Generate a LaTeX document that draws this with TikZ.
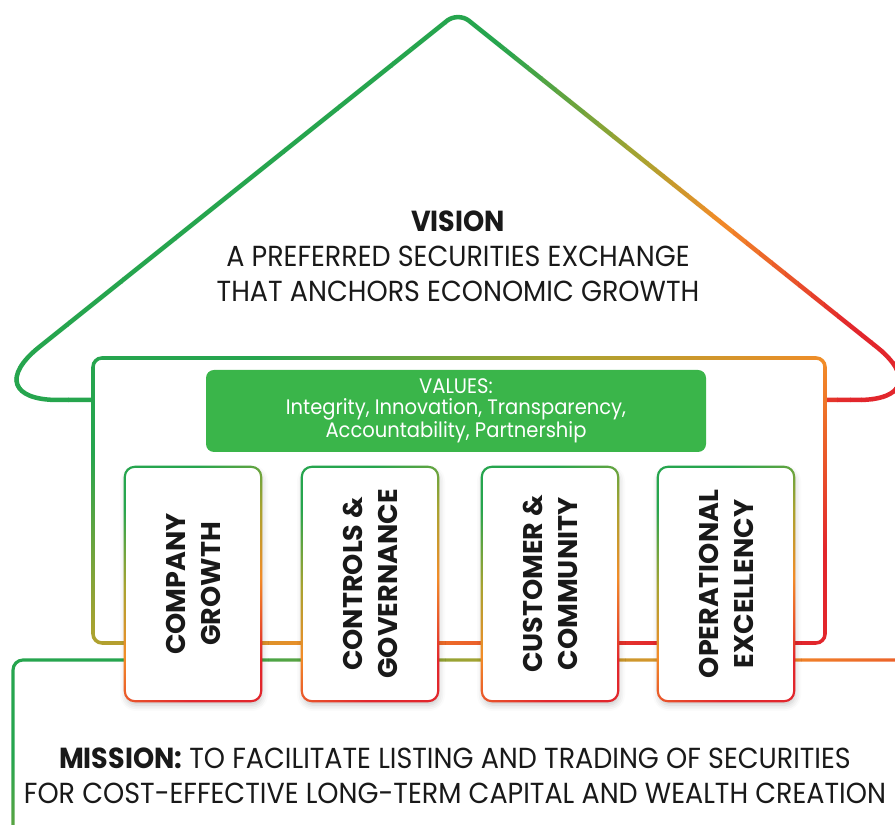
\documentclass[tikz,border=0pt]{standalone}
\usepackage{fontspec}
\setmainfont{Poppins}[FakeStretch=0.93]
\newfontfamily\pillarfont{Poppins}
\usetikzlibrary{calc,shadows.blur}

\definecolor{hgreen}{RGB}{38,165,78}
\definecolor{holive}{RGB}{168,163,48}
\definecolor{horange}{RGB}{242,140,40}
\definecolor{hred}{RGB}{226,38,44}
\definecolor{valgreen}{RGB}{58,181,74}
\definecolor{ink}{RGB}{25,25,25}

% green -> olive -> orange -> red
\pgfdeclarehorizontalshading{houseshade}{100bp}{color(0bp)=(hgreen); color(25bp)=(hgreen);
  color(42bp)=(holive); color(57bp)=(horange); color(75bp)=(hred); color(100bp)=(hred)}

\tikzset{
  pillar/.style={rectangle, rounded corners=10pt, fill=white, inner sep=0pt,
    minimum width=136pt, minimum height=234pt,
    blur shadow={shadow xshift=1pt, shadow yshift=-4pt, shadow blur radius=6pt, shadow opacity=22}},
  pillarlabel/.style={rotate=90, align=center, text=ink,
    font=\pillarfont\bfseries\fontsize{27}{35}\selectfont},
  valuesbox/.style={rectangle, rounded corners=8pt, fill=valgreen, text=white, align=center,
    minimum width=500pt, minimum height=82pt, inner sep=0pt,
    font=\fontsize{21}{21}\selectfont},
  bigtext/.style={align=center, text=ink, font=\fontsize{29}{35}\selectfont},
  roofline/.style={line width=4.5pt}
}

% frame with a shaded outline: corners, radius, half line width, shading angle
\newcommand\gradframe[5]{%
  \shade[shading=houseshade, shading angle=#5, even odd rule]
    [rounded corners=#3pt+#4pt] ($#1+(-#4,-#4)$) rectangle ($#2+(#4,#4)$)
    [rounded corners=#3pt-#4pt] ($#1+(#4,#4)$) rectangle ($#2+(-#4,-#4)$);}

% the roof, one corner per piece
\newcommand\roofpath{%
  \draw[rounded corners=85pt] (wl) -- (el) -- (sl);
  \draw[rounded corners=14pt] (sl) -- (apex) -- (sr);
  \draw[rounded corners=85pt] (sr) -- (er) -- (wr);}

\begin{document}
\begin{tikzpicture}[x=1pt, y=1pt]
  \useasboundingbox (0,0) rectangle (895,825);
  \clip (0,0) rectangle (895,825);

  \coordinate (apex) at (458,813);
  \coordinate (el) at (-27,425);
  \coordinate (er) at (943,425);
  \coordinate (wl) at (93,425);
  \coordinate (wr) at (826,425);
  \coordinate (sl) at ($(apex)!60pt!(el)$);
  \coordinate (sr) at ($(apex)!60pt!(er)$);

  % roof, coloured strip by strip from left to right
  \foreach \xa/\xb/\ca/\cb in {-40/500/hgreen/hgreen, 500/640/hgreen/holive,
      640/720/holive/horange, 720/850/horange/hred, 850/960/hred/hred}{
    \foreach \k in {0,...,9}{
      \pgfmathsetmacro\sa{\xa+(\xb-\xa)*\k/10}
      \pgfmathsetmacro\sb{\xa+(\xb-\xa)*(\k+1)/10+0.6}
      \pgfmathtruncatemacro\mix{95-10*\k}
      \begin{scope}
        \clip (\sa,390) rectangle (\sb,830);
        \begin{scope}[roofline, color=\ca!\mix!\cb]
          \roofpath
        \end{scope}
      \end{scope}
    }
  }

  % walls and foundation
  \gradframe{(93,182)}{(825,467)}{9}{1.8}{-60}
  \gradframe{(13,-30)}{(920,165)}{10}{1.6}{-60}

  \node[valuesbox] (values) at (456,414) {VALUES:\\Integrity, Innovation, Transparency,\\Accountability, Partnership};

  % pillars
  \node[pillar] (p1) at (193,241) {};
  \node[pillar] (p2) at (370,241) {};
  \node[pillar] (p3) at (550,241) {};
  \node[pillar] (p4) at (726,241) {};
  \gradframe{(p1.south west)}{(p1.north east)}{10}{1.1}{-60}
  \gradframe{(p2.south west)}{(p2.north east)}{10}{1.1}{-60}
  \gradframe{(p3.south west)}{(p3.north east)}{10}{1.1}{-60}
  \gradframe{(p4.south west)}{(p4.north east)}{10}{1.1}{-60}
  \node[pillarlabel] (l1) at (p1) {COMPANY\\GROWTH};
  \node[pillarlabel] (l2) at (p2) {CONTROLS \&\\GOVERNANCE};
  \node[pillarlabel] (l3) at (p3) {CUSTOMER \&\\COMMUNITY};
  \node[pillarlabel] (l4) at (p4) {OPERATIONAL\\EXCELLENCY};

  \node[bigtext] (vision) at (458,569) {\textbf{VISION}\\A PREFERRED SECURITIES EXCHANGE\\THAT ANCHORS ECONOMIC GROWTH};
  \node[bigtext] (mission) at (455,49) {\textbf{MISSION:} TO FACILITATE LISTING AND TRADING OF SECURITIES\\FOR COST-EFFECTIVE LONG-TERM CAPITAL AND WEALTH CREATION};
\end{tikzpicture}
\end{document}
